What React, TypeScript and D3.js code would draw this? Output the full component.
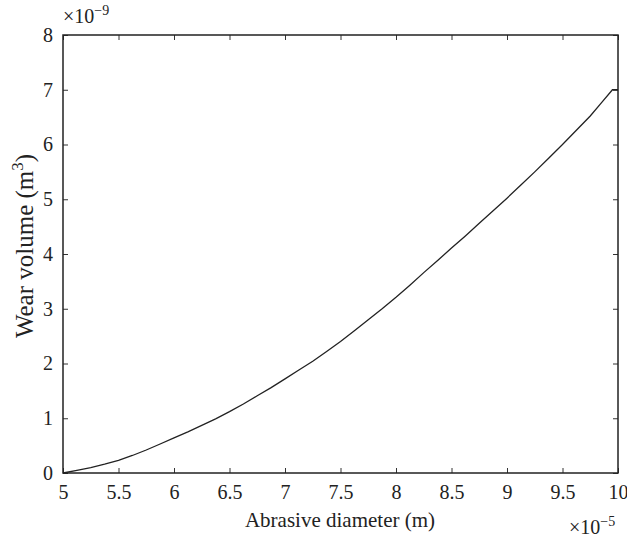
import React, { useEffect, useRef } from 'react';
import * as d3 from 'd3';

const diameters = [5.0, 5.125, 5.25, 5.375, 5.5, 5.625, 5.75, 5.875, 6.0, 6.125, 6.25, 6.375, 6.5, 6.625, 6.75, 6.875, 7.0, 7.125, 7.25, 7.375, 7.5, 7.625, 7.75, 7.875, 8.0, 8.125, 8.25, 8.375, 8.5, 8.625, 8.75, 8.875, 9.0, 9.125, 9.25, 9.375, 9.5, 9.625, 9.75, 9.85, 9.95, 10.0];
const wearVolume = [0, 0.05, 0.1, 0.16, 0.23, 0.32, 0.42, 0.53, 0.64, 0.75, 0.87, 0.99, 1.12, 1.26, 1.41, 1.56, 1.72, 1.88, 2.04, 2.22, 2.4, 2.6, 2.8, 3.0, 3.21, 3.43, 3.66, 3.88, 4.11, 4.33, 4.56, 4.79, 5.02, 5.26, 5.5, 5.75, 6.0, 6.26, 6.52, 6.76, 7.0, 7.0];
const xTicks = [5, 5.5, 6, 6.5, 7, 7.5, 8, 8.5, 9, 9.5, 10];
const yTicks = [0, 1, 2, 3, 4, 5, 6, 7, 8];

const W = 627;
const H = 542;
const left = 63, right = 618, top = 35, bottom = 473;
const FONT = '"Liberation Serif", "DejaVu Serif", serif';

const App = () => {
    const ref = useRef<SVGSVGElement>(null);

    useEffect(() => {
        document.body.style.margin = '0';
        const svg = d3.select(ref.current)
            .attr('width', W)
            .attr('height', H)
            .style('display', 'block')
            .style('background', '#fff');
        svg.selectAll('*').remove();

        const x = d3.scaleLinear().domain([5, 10]).range([left, right]);
        const y = d3.scaleLinear().domain([0, 8]).range([bottom, top]);

        const fmt = (d: number) => String(d);

        // axes on all four sides, ticks pointing inward
        svg.append('g')
            .attr('transform', `translate(0,${bottom})`)
            .call(d3.axisBottom(x).tickValues(xTicks).tickFormat(fmt as any).tickSizeInner(-5).tickSizeOuter(0).tickPadding(12));
        svg.append('g')
            .attr('transform', `translate(0,${top})`)
            .call(d3.axisTop(x).tickValues(xTicks).tickFormat(() => '').tickSizeInner(-5).tickSizeOuter(0));
        svg.append('g')
            .attr('transform', `translate(${left},0)`)
            .call(d3.axisLeft(y).tickValues(yTicks).tickFormat(fmt as any).tickSizeInner(-5).tickSizeOuter(0).tickPadding(10));
        svg.append('g')
            .attr('transform', `translate(${right},0)`)
            .call(d3.axisRight(y).tickValues(yTicks).tickFormat(() => '').tickSizeInner(-5).tickSizeOuter(0));

        svg.selectAll('.domain').remove();
        svg.selectAll('.tick line').attr('stroke', '#333');
        svg.selectAll('.tick text')
            .attr('font-family', FONT)
            .attr('font-size', 20)
            .attr('fill', '#222');

        svg.append('rect')
            .attr('x', left).attr('y', top)
            .attr('width', right - left).attr('height', bottom - top)
            .attr('fill', 'none').attr('stroke', '#222').attr('stroke-width', 1.5);

        const line = d3.line<number>()
            .x((_, i) => x(diameters[i]))
            .y(d => y(d));
        svg.append('path')
            .datum(wearVolume)
            .attr('d', line)
            .attr('fill', 'none')
            .attr('stroke', '#222')
            .attr('stroke-width', 1.3);

        // exponents
        const e1 = svg.append('text').attr('x', 63).attr('y', 23)
            .attr('font-family', FONT).attr('font-size', 20).attr('fill', '#222');
        e1.append('tspan').text('×10');
        e1.append('tspan').attr('dy', -8).attr('font-size', 14).text('−9');

        const e2 = svg.append('text').attr('x', 569).attr('y', 534)
            .attr('font-family', FONT).attr('font-size', 20).attr('fill', '#222');
        e2.append('tspan').text('×10');
        e2.append('tspan').attr('dy', -8).attr('font-size', 14).text('−5');

        svg.append('text')
            .attr('x', 340).attr('y', 527)
            .attr('text-anchor', 'middle')
            .attr('font-family', FONT).attr('font-size', 21).attr('fill', '#222')
            .text('Abrasive diameter (m)');

        const yl = svg.append('text')
            .attr('transform', `translate(33,246) rotate(-90)`)
            .attr('text-anchor', 'middle')
            .attr('font-family', FONT).attr('font-size', 25).attr('fill', '#222');
        yl.append('tspan').text('Wear volume (m');
        yl.append('tspan').attr('dy', -10).attr('font-size', 17).text('3');
        yl.append('tspan').attr('dy', 10).text(')');
    }, []);

    return (
        <svg ref={ref}></svg>
    );
};

export default App;
